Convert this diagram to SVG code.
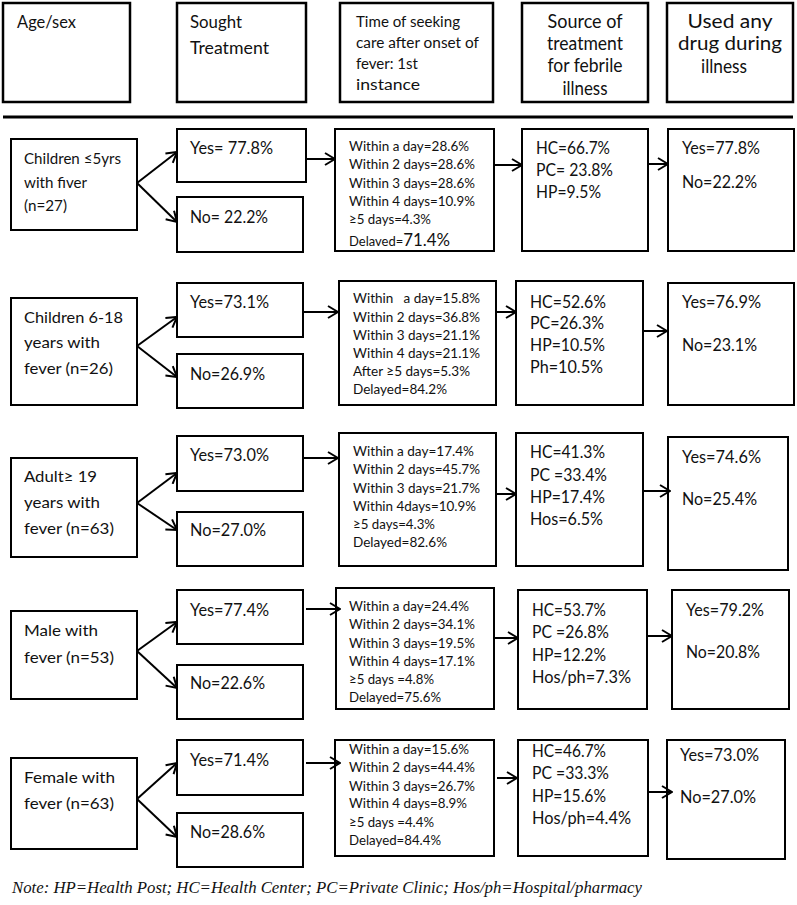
<svg xmlns="http://www.w3.org/2000/svg" width="797" height="905" viewBox="0 0 797 905">
<style>
text{font-family:Lato,"Liberation Sans",sans-serif;fill:#111}
.b{fill:#fff;stroke:#000;stroke-width:2}
.hb{fill:#fff;stroke:#000;stroke-width:2.5}
.h{font-size:18px}
.h3{font-size:15.5px}
.hc{font-size:18.5px;text-anchor:middle}
.a{font-size:16px}
.y{font-size:17px}
.t{font-size:13.5px}
.s{font-size:17.5px}
.c line{stroke:#000;stroke-width:2;marker-end:url(#ar)}
.note{font-family:"Liberation Serif",serif;font-style:italic;font-size:16.5px}
</style>
<defs>
<marker id="ar" markerUnits="userSpaceOnUse" viewBox="0 0 12 14" refX="11" refY="7" markerWidth="12" markerHeight="14" orient="auto">
<path d="M1,1 L11,7 L1,13" fill="none" stroke="#000" stroke-width="2"/>
</marker>
</defs>
<rect width="797" height="905" fill="#fff"/>

<g id="hdr-age"><rect class="hb" x="3" y="3" width="127" height="99"/><text class="h" x="17" y="28" textLength="59" lengthAdjust="spacingAndGlyphs">Age/sex</text></g>
<g id="hdr-sought"><rect class="hb" x="177" y="3" width="129" height="99"/><text class="h" x="190" y="28" textLength="52" lengthAdjust="spacingAndGlyphs">Sought</text><text class="h" x="190" y="54" textLength="79" lengthAdjust="spacingAndGlyphs">Treatment</text></g>
<g id="hdr-time"><rect class="hb" x="340" y="3" width="153" height="99"/>
<text class="h3" x="356" y="27" textLength="104" lengthAdjust="spacingAndGlyphs">Time of seeking</text><text class="h3" x="356" y="48" textLength="123" lengthAdjust="spacingAndGlyphs">care after onset of</text><text class="h3" x="356" y="69" textLength="62" lengthAdjust="spacingAndGlyphs">fever: 1st</text><text class="h3" x="356" y="90" textLength="64" lengthAdjust="spacingAndGlyphs">instance</text></g>
<g id="hdr-source"><rect class="hb" x="522" y="3" width="126" height="99"/>
<text class="hc" x="585" y="28" textLength="75" lengthAdjust="spacingAndGlyphs">Source of</text><text class="hc" x="585" y="50" textLength="76" lengthAdjust="spacingAndGlyphs">treatment</text><text class="hc" x="585" y="72" textLength="75" lengthAdjust="spacingAndGlyphs">for febrile</text><text class="hc" x="585" y="95" textLength="45" lengthAdjust="spacingAndGlyphs">illness</text></g>
<g id="hdr-drug"><rect class="hb" x="667" y="3" width="126" height="99"/>
<text class="hc" x="730" y="28" textLength="85" lengthAdjust="spacingAndGlyphs">Used any</text><text class="hc" x="730" y="50" textLength="104" lengthAdjust="spacingAndGlyphs">drug during</text><text class="hc" x="724" y="73" textLength="46" lengthAdjust="spacingAndGlyphs">illness</text></g>
<line x1="3" y1="117" x2="793" y2="117" stroke="#000" stroke-width="3"/>

<!-- Row 1 -->
<g id="r1-age"><rect class="b" x="11" y="139" width="126" height="91"/><text class="a" x="24" y="164" textLength="97" lengthAdjust="spacingAndGlyphs">Children ≤5yrs</text><text class="a" x="24" y="188" textLength="63" lengthAdjust="spacingAndGlyphs">with fiver</text><text class="a" x="24" y="211" textLength="43" lengthAdjust="spacingAndGlyphs">(n=27)</text></g>
<g id="r1-yes"><rect class="b" x="177" y="129" width="129" height="53"/><text class="y" x="190" y="154" textLength="83" lengthAdjust="spacingAndGlyphs">Yes= 77.8%</text></g>
<g id="r1-no"><rect class="b" x="177" y="197" width="126" height="55"/><text class="y" x="190" y="223" textLength="78" lengthAdjust="spacingAndGlyphs">No= 22.2%</text></g>
<g id="r1-time"><rect class="b" x="335" y="129" width="159" height="122"/>
<text class="t" x="349" y="151" textLength="120" lengthAdjust="spacingAndGlyphs">Within a day=28.6%</text><text class="t" x="349" y="169" textLength="126" lengthAdjust="spacingAndGlyphs">Within 2 days=28.6%</text><text class="t" x="349" y="188" textLength="126" lengthAdjust="spacingAndGlyphs">Within 3 days=28.6%</text><text class="t" x="349" y="206" textLength="126" lengthAdjust="spacingAndGlyphs">Within 4 days=10.9%</text><text class="t" x="349" y="224" textLength="82" lengthAdjust="spacingAndGlyphs">≥5 days=4.3%</text><text class="t" x="349" y="246" textLength="101" lengthAdjust="spacingAndGlyphs">Delaved=<tspan font-size="17.5px">71.4%</tspan></text></g>
<g id="r1-source"><rect class="b" x="522" y="129" width="126" height="122"/>
<text class="s" x="536" y="154" textLength="74" lengthAdjust="spacingAndGlyphs">HC=66.7%</text><text class="s" x="536" y="176" textLength="77" lengthAdjust="spacingAndGlyphs">PC= 23.8%</text><text class="s" x="536" y="198" textLength="65" lengthAdjust="spacingAndGlyphs">HP=9.5%</text></g>
<g id="r1-drug"><rect class="b" x="668" y="129" width="126" height="122"/>
<text class="s" x="682" y="154" textLength="78" lengthAdjust="spacingAndGlyphs">Yes=77.8%</text><text class="s" x="682" y="188" textLength="75" lengthAdjust="spacingAndGlyphs">No=22.2%</text></g>

<!-- Row 2 -->
<g id="r2-age"><rect class="b" x="11" y="298" width="126" height="107"/><text class="a" x="24" y="323" textLength="99" lengthAdjust="spacingAndGlyphs">Children 6-18</text><text class="a" x="24" y="348" textLength="76" lengthAdjust="spacingAndGlyphs">years with</text><text class="a" x="24" y="374" textLength="89" lengthAdjust="spacingAndGlyphs">fever (n=26)</text></g>
<g id="r2-yes"><rect class="b" x="177" y="283" width="126" height="54"/><text class="y" x="190" y="308" textLength="79" lengthAdjust="spacingAndGlyphs">Yes=73.1%</text></g>
<g id="r2-no"><rect class="b" x="177" y="354" width="126" height="54"/><text class="y" x="190" y="380" textLength="75" lengthAdjust="spacingAndGlyphs">No=26.9%</text></g>
<g id="r2-time"><rect class="b" x="339" y="281" width="157" height="124"/>
<text class="t" x="353" y="303" xml:space="preserve" textLength="127" lengthAdjust="spacingAndGlyphs">Within   a day=15.8%</text><text class="t" x="353" y="322" textLength="127" lengthAdjust="spacingAndGlyphs">Within 2 days=36.8%</text><text class="t" x="353" y="340" textLength="127" lengthAdjust="spacingAndGlyphs">Within 3 days=21.1%</text><text class="t" x="353" y="358" textLength="127" lengthAdjust="spacingAndGlyphs">Within 4 days=21.1%</text><text class="t" x="353" y="376" textLength="117" lengthAdjust="spacingAndGlyphs">After ≥5 days=5.3%</text><text class="t" x="353" y="394" textLength="94" lengthAdjust="spacingAndGlyphs">Delayed=84.2%</text></g>
<g id="r2-source"><rect class="b" x="516" y="281" width="127" height="124"/>
<text class="s" x="530" y="308" textLength="76" lengthAdjust="spacingAndGlyphs">HC=52.6%</text><text class="s" x="530" y="329" textLength="74" lengthAdjust="spacingAndGlyphs">PC=26.3%</text><text class="s" x="530" y="351" textLength="75" lengthAdjust="spacingAndGlyphs">HP=10.5%</text><text class="s" x="530" y="373" textLength="73" lengthAdjust="spacingAndGlyphs">Ph=10.5%</text></g>
<g id="r2-drug"><rect class="b" x="668" y="283" width="126" height="122"/>
<text class="s" x="682" y="308" textLength="79" lengthAdjust="spacingAndGlyphs">Yes=76.9%</text><text class="s" x="682" y="351" textLength="75" lengthAdjust="spacingAndGlyphs">No=23.1%</text></g>

<!-- Row 3 -->
<g id="r3-age"><rect class="b" x="11" y="458" width="126" height="99"/><text class="a" x="24" y="482" textLength="73" lengthAdjust="spacingAndGlyphs">Adult≥ 19</text><text class="a" x="24" y="508" textLength="76" lengthAdjust="spacingAndGlyphs">years with</text><text class="a" x="24" y="534" textLength="90" lengthAdjust="spacingAndGlyphs">fever (n=63)</text></g>
<g id="r3-yes"><rect class="b" x="177" y="436" width="126" height="55"/><text class="y" x="190" y="461" textLength="79" lengthAdjust="spacingAndGlyphs">Yes=73.0%</text></g>
<g id="r3-no"><rect class="b" x="177" y="512" width="126" height="54"/><text class="y" x="190" y="536" textLength="76" lengthAdjust="spacingAndGlyphs">No=27.0%</text></g>
<g id="r3-time"><rect class="b" x="339" y="433" width="157" height="133"/>
<text class="t" x="353" y="456" textLength="121" lengthAdjust="spacingAndGlyphs">Within a day=17.4%</text><text class="t" x="353" y="474" textLength="127" lengthAdjust="spacingAndGlyphs">Within 2 days=45.7%</text><text class="t" x="353" y="493" textLength="127" lengthAdjust="spacingAndGlyphs">Within 3 days=21.7%</text><text class="t" x="353" y="511" textLength="123" lengthAdjust="spacingAndGlyphs">Within 4days=10.9%</text><text class="t" x="353" y="529" textLength="82" lengthAdjust="spacingAndGlyphs">≥5 days=4.3%</text><text class="t" x="353" y="547" textLength="94" lengthAdjust="spacingAndGlyphs">Delayed=82.6%</text></g>
<g id="r3-source"><rect class="b" x="516" y="433" width="127" height="133"/>
<text class="s" x="530" y="458" textLength="75" lengthAdjust="spacingAndGlyphs">HC=41.3%</text><text class="s" x="530" y="481" textLength="77" lengthAdjust="spacingAndGlyphs">PC =33.4%</text><text class="s" x="530" y="503" textLength="75" lengthAdjust="spacingAndGlyphs">HP=17.4%</text><text class="s" x="530" y="525" textLength="73" lengthAdjust="spacingAndGlyphs">Hos=6.5%</text></g>
<g id="r3-drug"><rect class="b" x="668" y="437" width="120" height="133"/>
<text class="s" x="682" y="463" textLength="79" lengthAdjust="spacingAndGlyphs">Yes=74.6%</text><text class="s" x="682" y="505" textLength="75" lengthAdjust="spacingAndGlyphs">No=25.4%</text></g>

<!-- Row 4 -->
<g id="r4-age"><rect class="b" x="11" y="611" width="126" height="88"/><text class="a" x="24" y="636" textLength="74" lengthAdjust="spacingAndGlyphs">Male with</text><text class="a" x="24" y="663" textLength="90" lengthAdjust="spacingAndGlyphs">fever (n=53)</text></g>
<g id="r4-yes"><rect class="b" x="177" y="590" width="126" height="54"/><text class="y" x="190" y="616" textLength="79" lengthAdjust="spacingAndGlyphs">Yes=77.4%</text></g>
<g id="r4-no"><rect class="b" x="177" y="665" width="126" height="54"/><text class="y" x="190" y="689" textLength="75" lengthAdjust="spacingAndGlyphs">No=22.6%</text></g>
<g id="r4-time"><rect class="b" x="336" y="588" width="158" height="121"/>
<text class="t" x="349" y="611" textLength="120" lengthAdjust="spacingAndGlyphs">Within a day=24.4%</text><text class="t" x="349" y="629" textLength="126" lengthAdjust="spacingAndGlyphs">Within 2 days=34.1%</text><text class="t" x="349" y="648" textLength="126" lengthAdjust="spacingAndGlyphs">Within 3 days=19.5%</text><text class="t" x="349" y="666" textLength="126" lengthAdjust="spacingAndGlyphs">Within 4 days=17.1%</text><text class="t" x="349" y="684" textLength="85" lengthAdjust="spacingAndGlyphs">≥5 days =4.8%</text><text class="t" x="349" y="702" textLength="92" lengthAdjust="spacingAndGlyphs">Delayed=75.6%</text></g>
<g id="r4-source"><rect class="b" x="518" y="590" width="129" height="119"/>
<text class="s" x="532" y="616" textLength="74" lengthAdjust="spacingAndGlyphs">HC=53.7%</text><text class="s" x="532" y="638" textLength="77" lengthAdjust="spacingAndGlyphs">PC =26.8%</text><text class="s" x="532" y="661" textLength="74" lengthAdjust="spacingAndGlyphs">HP=12.2%</text><text class="s" x="532" y="683" textLength="99" lengthAdjust="spacingAndGlyphs">Hos/ph=7.3%</text></g>
<g id="r4-drug"><rect class="b" x="672" y="590" width="117" height="119"/>
<text class="s" x="686" y="616" textLength="78" lengthAdjust="spacingAndGlyphs">Yes=79.2%</text><text class="s" x="686" y="658" textLength="74" lengthAdjust="spacingAndGlyphs">No=20.8%</text></g>

<!-- Row 5 -->
<g id="r5-age"><rect class="b" x="11" y="758" width="126" height="91"/><text class="a" x="24" y="783" textLength="91" lengthAdjust="spacingAndGlyphs">Female with</text><text class="a" x="24" y="809" textLength="90" lengthAdjust="spacingAndGlyphs">fever (n=63)</text></g>
<g id="r5-yes"><rect class="b" x="177" y="740" width="126" height="55"/><text class="y" x="190" y="766" textLength="79" lengthAdjust="spacingAndGlyphs">Yes=71.4%</text></g>
<g id="r5-no"><rect class="b" x="177" y="813" width="126" height="54"/><text class="y" x="190" y="838" textLength="75" lengthAdjust="spacingAndGlyphs">No=28.6%</text></g>
<g id="r5-time"><rect class="b" x="335" y="740" width="159" height="116"/>
<text class="t" x="349" y="754" textLength="120" lengthAdjust="spacingAndGlyphs">Within a day=15.6%</text><text class="t" x="349" y="772" textLength="126" lengthAdjust="spacingAndGlyphs">Within 2 days=44.4%</text><text class="t" x="349" y="791" textLength="126" lengthAdjust="spacingAndGlyphs">Within 3 days=26.7%</text><text class="t" x="349" y="808" textLength="118" lengthAdjust="spacingAndGlyphs">Within 4 days=8.9%</text><text class="t" x="349" y="827" textLength="85" lengthAdjust="spacingAndGlyphs">≥5 days =4.4%</text><text class="t" x="349" y="845" textLength="92" lengthAdjust="spacingAndGlyphs">Delayed=84.4%</text></g>
<g id="r5-source"><rect class="b" x="518" y="740" width="130" height="116"/>
<text class="s" x="532" y="757" textLength="74" lengthAdjust="spacingAndGlyphs">HC=46.7%</text><text class="s" x="532" y="779" textLength="77" lengthAdjust="spacingAndGlyphs">PC =33.3%</text><text class="s" x="532" y="802" textLength="74" lengthAdjust="spacingAndGlyphs">HP=15.6%</text><text class="s" x="532" y="824" textLength="99" lengthAdjust="spacingAndGlyphs">Hos/ph=4.4%</text></g>
<g id="r5-drug"><rect class="b" x="667" y="740" width="118" height="119"/>
<text class="s" x="680" y="761" textLength="79" lengthAdjust="spacingAndGlyphs">Yes=73.0%</text><text class="s" x="680" y="803" textLength="76" lengthAdjust="spacingAndGlyphs">No=27.0%</text></g>

<g id="connectors" class="c">
<line x1="137" y1="183" x2="177" y2="152"/><line x1="137" y1="183" x2="177" y2="222"/>
<line x1="306" y1="159" x2="335" y2="159"/><line x1="494" y1="165" x2="522" y2="165"/><line x1="648" y1="164" x2="668" y2="164"/>
<line x1="137" y1="346" x2="177" y2="317"/><line x1="137" y1="346" x2="177" y2="377"/>
<line x1="303" y1="312" x2="338" y2="312"/><line x1="496" y1="312" x2="516" y2="312"/><line x1="643" y1="331" x2="667" y2="331"/>
<line x1="137" y1="503" x2="177" y2="473"/><line x1="137" y1="503" x2="177" y2="530"/>
<line x1="303" y1="458" x2="338" y2="458"/><line x1="496" y1="494" x2="516" y2="494"/><line x1="643" y1="491" x2="670" y2="491"/>
<line x1="137" y1="651" x2="177" y2="622"/><line x1="137" y1="651" x2="177" y2="688"/>
<line x1="306" y1="609" x2="340" y2="609"/><line x1="494" y1="638" x2="518" y2="638"/><line x1="647" y1="636" x2="672" y2="636"/>
<line x1="137" y1="799" x2="177" y2="763"/><line x1="137" y1="799" x2="177" y2="837"/>
<line x1="306" y1="763" x2="340" y2="763"/><line x1="497" y1="778" x2="517" y2="778"/><line x1="648" y1="792" x2="672" y2="792"/>
</g>

<text class="note" x="12" y="893" textLength="630" lengthAdjust="spacingAndGlyphs">Note: HP=Health Post; HC=Health Center; PC=Private Clinic; Hos/ph=Hospital/pharmacy</text>
</svg>
